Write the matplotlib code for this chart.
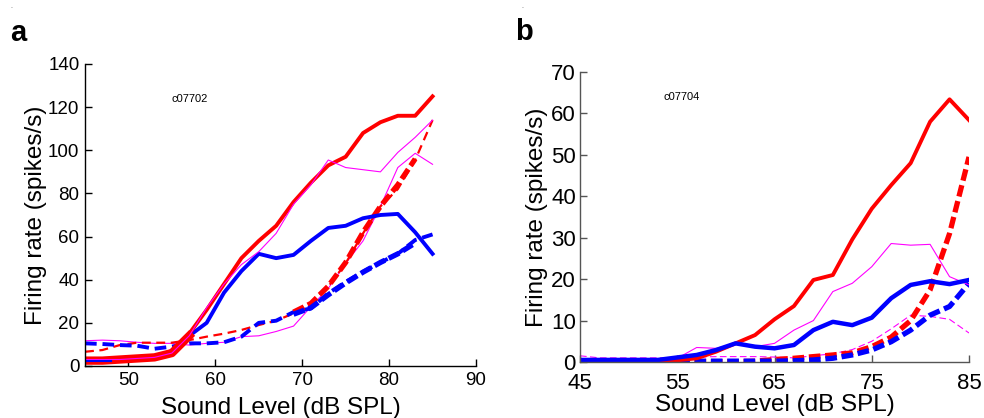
import matplotlib
matplotlib.use("Agg")
import matplotlib.pyplot as plt
import numpy as np

plt.rcParams['font.family'] = ['Liberation Sans', 'DejaVu Sans']

# ---------------- Panel a data ----------------
xa = [45, 47, 49, 51, 53, 55, 57, 59, 61, 63, 65, 67, 69, 71, 73, 75, 77, 79, 81, 83, 85]
a_red_solid = [3, 3, 3, 3.5, 4, 6, 15, 26, 38, 50, 58, 65, 76, 85, 93, 97, 108, 113, 116, 116, 125]
a_blue_solid = [2.5, 2.5, 3, 3.5, 4, 7, 14, 20, 34, 44, 52, 50, 51.5, 58, 64, 65, 68.5, 70, 70.5, 62, 52]
a_mag_upper = [3, 3, 3, 3.5, 4, 6, 14, 27, 38, 47, 53, 61.5, 75, 84, 95.5, 92, 91, 90, 99, 106, 114]
a_mag_lower = [11.7, 12, 11.7, 11, 10.5, 10.5, 9.7, 10.5, 11, 13.6, 14, 16, 18.5, 27.5, 36, 47.6, 58, 74, 92, 98.6, 93.5]
a_red_dash = [6.6, 7.4, 9.7, 10.8, 10.8, 10.8, 12, 13.6, 15, 16.7, 19, 21, 24.4, 29, 36.8, 47.6, 61.5, 74, 82, 95.5, 114]
a_blue_dash = [10.5, 10.2, 9.7, 9.4, 8, 9, 10.5, 10.5, 11, 13.6, 20, 21, 25, 26.7, 33.7, 39, 43.7, 48, 52, 58.4, 61]
xa_fit = [69, 71, 73, 75, 77, 79, 81, 83]
a_red_fit = [25, 29, 37, 48, 62, 74, 84, 96]
a_blue_fit = [24, 27, 33, 38.5, 43.5, 48, 52, 57]
xa_low = [45, 47, 49, 51, 53, 55, 57]
a_red_low = [2.5, 2.5, 3, 3.5, 4, 6, 14]

# ---------------- Panel b data ----------------
xb = [45, 47, 49, 51, 53, 55, 57, 59, 61, 63, 65, 67, 69, 71, 73, 75, 77, 79, 81, 83, 85]
b_red_solid = [0.3, 0.3, 0.3, 0.3, 0.3, 0.4, 0.9, 2.5, 4.5, 6.5, 10.3, 13.5, 19.8, 21, 29.6, 37, 42.7, 48, 58, 63.4, 58.4]
b_mag_solid = [0.5, 0.5, 0.5, 0.5, 0.5, 0.9, 3.5, 3.3, 4.5, 3.7, 4.5, 7.7, 10, 17, 19, 23, 28.6, 28.2, 28.4, 20.6, 18.6]
b_blue_solid = [0.5, 0.5, 0.5, 0.5, 0.5, 1.1, 1.7, 2.9, 4.5, 3.7, 3.3, 4.1, 7.7, 9.7, 8.9, 10.7, 15.4, 18.6, 19.5, 18.8, 19.8]
b_mag_dash = [1.5, 1.0, 1.0, 1.0, 1.0, 1.0, 1.2, 1.3, 1.3, 1.3, 1.2, 1.0, 1.5, 2.0, 3.0, 5.0, 8.0, 11.3, 11.0, 10.3, 7.0]
b_red_dash = [0.1, 0.1, 0.1, 0.1, 0.1, 0.1, 0.1, 0.1, 0.1, 0.2, 0.6, 0.9, 1.3, 1.7, 2.2, 3.7, 6.0, 10.0, 17.4, 31.0, 49.5]
b_blue_dash = [0.2, 0.2, 0.2, 0.2, 0.2, 0.2, 0.2, 0.2, 0.2, 0.2, 0.2, 0.3, 0.5, 0.9, 1.7, 2.9, 4.9, 7.7, 11.3, 13.4, 19.0]

a_xticks = [50, 60, 70, 80, 90]
a_yticks = [0, 20, 40, 60, 80, 100, 120, 140]
b_xticks = [45, 55, 65, 75, 85]
b_yticks = [0, 10, 20, 30, 40, 50, 60, 70]

RED = '#ff0000'
BLUE = '#0000ff'
MAG = '#ff00ff'

fig = plt.figure(figsize=(9.84, 4.18), dpi=100)

# ---------- Panel a ----------
axa = fig.add_axes([85/984, 52/418, 391/984, 302/418])
axa.plot(xa, a_mag_lower, color=MAG, lw=0.8)
axa.plot(xa, a_red_dash, color=RED, lw=1.6, dashes=(4, 2.5))
axa.plot(xa, a_blue_dash, color=BLUE, lw=2.8, dashes=(3, 1.5))
axa.plot(xa_fit, a_red_fit, color=RED, lw=3.8, dashes=(2.2, 0.8))
axa.plot(xa_fit, a_blue_fit, color=BLUE, lw=3.8, dashes=(2.2, 0.8))
axa.plot(xa, a_blue_solid, color=BLUE, lw=2.8)
axa.plot(xa, a_red_solid, color=RED, lw=2.8)
axa.plot(xa_low, a_red_low, color=RED, lw=6)
axa.plot(xa, a_mag_upper, color=MAG, lw=0.8)
axa.plot([45, 48], [2.5, 2.5], color=BLUE, lw=1.5)
axa.set_xlim(45, 90)
axa.set_ylim(0, 140)
axa.set_xticks(a_xticks)
axa.set_yticks(a_yticks)
axa.tick_params(direction='in', length=5, width=1, labelsize=13.5, pad=4)
for s in ['top', 'right']:
    axa.spines[s].set_visible(False)
for s in ['left', 'bottom']:
    axa.spines[s].set_linewidth(1)
axa.set_xlabel('Sound Level (dB SPL)', fontsize=17.5, labelpad=6)
axa.set_ylabel('Firing rate (spikes/s)', fontsize=17.5, labelpad=1)
axa.text(55, 124, 'c07702', fontsize=8, ha='left', va='center')

# ---------- Panel b ----------
axb = fig.add_axes([580/984, 56/418, 389/984, 290/418])
axb.plot(xb, b_mag_dash, color=MAG, lw=0.8, dashes=(6, 3))
axb.plot(xb, b_red_dash, color=RED, lw=3.8, dashes=(2.2, 0.9))
axb.plot(xb, b_blue_dash, color=BLUE, lw=3.8, dashes=(2.2, 0.9))
axb.plot(xb, b_mag_solid, color=MAG, lw=0.8)
axb.plot(xb, b_red_solid, color=RED, lw=2.8)
axb.plot(xb, b_blue_solid, color=BLUE, lw=3.2)
axb.set_xlim(45, 85)
axb.set_ylim(0, 70)
axb.set_xticks(b_xticks)
axb.set_yticks(b_yticks)
axb.tick_params(direction='in', length=5, width=1, labelsize=16, color='#555555')
axb.tick_params(axis='x', pad=8)
axb.tick_params(axis='y', pad=3)
for s in ['top', 'right']:
    axb.spines[s].set_visible(False)
for s in ['left', 'bottom']:
    axb.spines[s].set_linewidth(1)
    axb.spines[s].set_color('#555555')
axb.set_xlabel('Sound Level (dB SPL)', fontsize=17.5, labelpad=0)
axb.set_ylabel('Firing rate (spikes/s)', fontsize=17.5, labelpad=2)
axb.text(53.6, 64, 'c07704', fontsize=8, ha='left', va='center')

# panel letters
fig.text(10/984, 1 - 41/418, 'a', fontsize=21, fontweight='bold', ha='left', va='baseline')
fig.text(515/984, 1 - 40/418, 'b', fontsize=21, fontweight='bold', ha='left', va='baseline')
fig.text(10/984, 1 - 8/418, '.', fontsize=5, ha='left', va='baseline', color='#555555')
fig.text(521/984, 1 - 8/418, '.', fontsize=5, ha='left', va='baseline', color='#555555')

fig.savefig('out.png', dpi=100)
